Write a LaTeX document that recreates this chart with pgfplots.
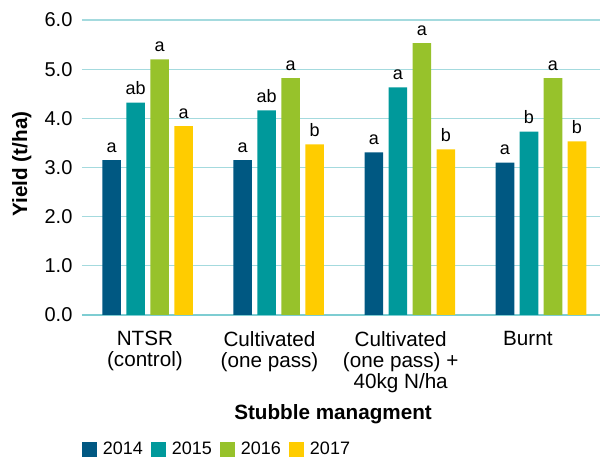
\documentclass[border=0pt]{standalone}
\usepackage{fontspec}
\setmainfont{Liberation Sans}
\usepackage{pgfplots}
\pgfplotsset{compat=1.18}
\usepackage{pgfplotstable}
\definecolor{c14}{RGB}{0,88,130}
\definecolor{c15}{RGB}{0,153,155}
\definecolor{c16}{RGB}{151,194,43}
\definecolor{c17}{RGB}{255,204,0}
\definecolor{gridc}{RGB}{164,218,222}
\definecolor{axc}{RGB}{126,205,210}

\pgfplotstableread{
x y lab
0 3.15 a
1 3.15 a
2 3.31 a
3 3.10 a
}\tA
\pgfplotstableread{
x y lab
0 4.32 ab
1 4.16 ab
2 4.63 a
3 3.73 b
}\tB
\pgfplotstableread{
x y lab
0 5.20 a
1 4.82 a
2 5.53 a
3 4.82 a
}\tC
\pgfplotstableread{
x y lab
0 3.84 a
1 3.47 b
2 3.37 b
3 3.53 b
}\tD

\begin{document}
\begin{tikzpicture}
\begin{axis}[
  name=ax,
  scale only axis,
  width=388.5pt, height=221.25pt,
  ybar, bar width=13.9pt,
  xmin=-0.5, xmax=3.45,
  ymin=0, ymax=6,
  ytick={0,1,2,3,4,5,6},
  xtick={-0.02,0.93,1.93,2.9},
  xticklabels={{NTSR\\(control)},{Cultivated\\(one pass)},{Cultivated\\(one pass) +\\40kg N/ha},{Burnt}},
  axis x line*=bottom, axis y line*=left,
  x axis line style={draw=axc, line width=1.6pt},
  y axis line style={draw=none},
  major tick length=0pt,
  ymajorgrids,
  grid style={draw=gridc, line width=0.9pt},
  /pgf/number format/assume math mode=true,
  yticklabel style={/pgf/number format/.cd, fixed, fixed zerofill, precision=1, /tikz/.cd, font=\fontsize{15}{18}\selectfont, inner sep=0pt, xshift=-7pt},
  xticklabel style={align=center, font=\fontsize{15.5}{15.75}\selectfont, inner sep=0pt, anchor=north, yshift=-12pt},
  xlabel={Stubble managment},
  xlabel style={font=\fontsize{15.5}{18}\selectfont\bfseries, at={(rel axis cs:0.4846,-0.3356)}, anchor=center},
  ylabel={Yield (t/ha)},
  ylabel style={font=\fontsize{15.5}{18}\selectfont\bfseries, at={(rel axis cs:-0.1164,0.512)}, anchor=center, rotate=0},
  point meta=explicit symbolic,
  nodes near coords,
  nodes near coords style={font=\fontsize{13.5}{15}\selectfont, inner sep=0pt, anchor=south, yshift=5.5pt},
  legend columns=4,
  legend style={at={(rel axis cs:0,-0.456)}, anchor=west, draw=none, fill=none, inner sep=0pt, font=\fontsize{13.5}{15}\selectfont,
    nodes={inner sep=0pt},
    /tikz/every odd column/.append style={column sep=4.2pt},
    /tikz/every even column/.append style={column sep=6.3pt}},
  mylegend/.style={legend image code/.code={\fill[##1,draw=none] (0pt,-5.6pt) rectangle (11.25pt,5.6pt);}},
]
\addplot[fill=c14, draw=none, bar shift=-27pt, mylegend] table[x=x,y=y,meta=lab] {\tA};
\addplot[fill=c15, draw=none, bar shift=-9pt, mylegend] table[x=x,y=y,meta=lab] {\tB};
\addplot[fill=c16, draw=none, bar shift=9pt, mylegend] table[x=x,y=y,meta=lab] {\tC};
\addplot[fill=c17, draw=none, bar shift=27pt, mylegend] table[x=x,y=y,meta=lab] {\tD};
\legend{2014,2015,2016,2017}
\end{axis}
\pgfresetboundingbox
\path (-61.5pt,-108pt) rectangle (389.25pt,236.25pt);
\end{tikzpicture}
\end{document}
